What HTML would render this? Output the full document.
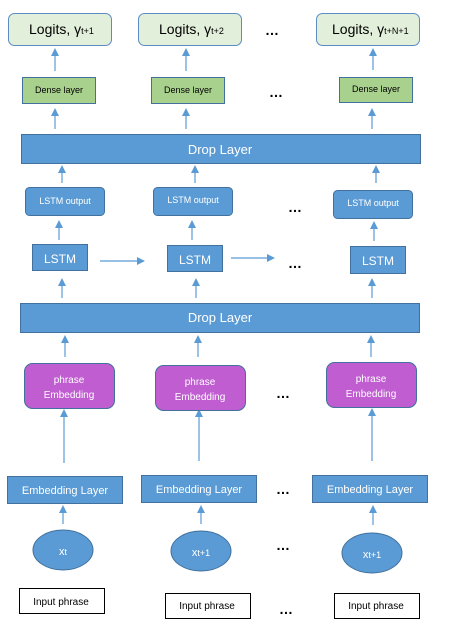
<!DOCTYPE html>
<html><head><meta charset="utf-8"><style>
html,body{margin:0;padding:0;background:#fff;}
svg{display:block;font-family:"Liberation Sans",sans-serif;}
</style></head><body>
<svg width="451" height="630" viewBox="0 0 451 630" xmlns="http://www.w3.org/2000/svg">
<defs>
<marker id="a" markerWidth="8" markerHeight="8" refX="4" refY="4" orient="auto" markerUnits="userSpaceOnUse">
<path d="M0,0 L8,4 L0,8 z" fill="#5b9bd5"/></marker>
</defs>
<g stroke="#5b9bd5" stroke-width="1.2" marker-end="url(#a)">
<line x1="55" y1="71" x2="55" y2="52"/><line x1="186" y1="71" x2="186" y2="52"/><line x1="373" y1="70" x2="373" y2="52"/>
<line x1="55" y1="129" x2="55" y2="112"/><line x1="186" y1="129" x2="186" y2="112"/><line x1="372" y1="129" x2="372" y2="112"/>
<line x1="62" y1="183" x2="62" y2="169"/><line x1="195" y1="183" x2="195" y2="169"/><line x1="376" y1="183" x2="376" y2="169"/>
<line x1="59" y1="240" x2="59" y2="224"/><line x1="192" y1="240" x2="192" y2="224"/><line x1="374" y1="241" x2="374" y2="225"/>
<line x1="100" y1="261" x2="141" y2="261"/><line x1="231" y1="258" x2="271" y2="258"/>
<line x1="62" y1="298" x2="62" y2="282"/><line x1="196" y1="298" x2="196" y2="282"/><line x1="372" y1="298" x2="372" y2="282"/>
<line x1="65" y1="357" x2="65" y2="339"/><line x1="198" y1="357" x2="198" y2="339"/><line x1="371" y1="357" x2="371" y2="339"/>
<line x1="64" y1="463" x2="64" y2="413"/><line x1="199" y1="461" x2="199" y2="413"/><line x1="372" y1="461" x2="372" y2="412"/>
<line x1="63" y1="524" x2="63" y2="509"/><line x1="201" y1="524" x2="201" y2="509"/><line x1="373" y1="525" x2="373" y2="509"/>
</g>
<g fill="#e2efda" stroke="#5b8cc4" stroke-width="1">
<rect x="8.5" y="13.5" width="103" height="32" rx="6"/><rect x="138.5" y="13.5" width="103" height="32" rx="6"/><rect x="316.5" y="13.5" width="103" height="32" rx="6"/>
</g>
<g font-size="14" fill="#000">
<text x="29" y="34">Logits, γ<tspan font-size="9">t+1</tspan></text>
<text x="159" y="34">Logits, γ<tspan font-size="9">t+2</tspan></text>
<text x="332" y="34">Logits, γ<tspan font-size="9">t+N+1</tspan></text>
</g>
<g fill="#a9d18e" stroke="#41719c" stroke-width="1">
<rect x="22.5" y="77.5" width="73" height="26"/><rect x="151.5" y="77.5" width="73" height="26"/><rect x="339.5" y="77.5" width="73" height="25"/>
</g>
<g font-size="9" fill="#000" text-anchor="middle">
<text x="59" y="93">Dense layer</text><text x="188" y="93">Dense layer</text><text x="376" y="92">Dense layer</text>
</g>
<g fill="#5b9bd5" stroke="#41719c" stroke-width="1">
<rect x="21.5" y="134.5" width="399" height="29"/>
<rect x="20.5" y="303.5" width="399" height="29"/>
<rect x="25.5" y="187.5" width="79" height="28" rx="4"/><rect x="153.5" y="187.5" width="79" height="28" rx="4"/><rect x="333.5" y="190.5" width="79" height="28" rx="4"/>
<rect x="32.5" y="244.5" width="55" height="26"/><rect x="167.5" y="245.5" width="55" height="26"/><rect x="350.5" y="246.5" width="55" height="27"/>
<rect x="7.5" y="476.5" width="115" height="27"/><rect x="141.5" y="475.5" width="115" height="27"/><rect x="312.5" y="475.5" width="115" height="27"/>
<ellipse cx="63" cy="550" rx="30" ry="20"/><ellipse cx="201" cy="551" rx="30" ry="20"/><ellipse cx="372" cy="553" rx="30" ry="20"/>
</g>
<g fill="#bf5dd1" stroke="#41719c" stroke-width="1">
<rect x="24.5" y="363.5" width="90" height="45" rx="8"/><rect x="155.5" y="365.5" width="90" height="45" rx="8"/><rect x="326.5" y="362.5" width="90" height="45" rx="8"/>
</g>
<g fill="#fff" text-anchor="middle">
<text x="220" y="154" font-size="13">Drop Layer</text>
<text x="220" y="322" font-size="13">Drop Layer</text>
<g font-size="9"><text x="65" y="204">LSTM output</text><text x="193" y="203">LSTM output</text><text x="373" y="206">LSTM output</text></g>
<g font-size="12"><text x="60" y="263">LSTM</text><text x="195" y="264">LSTM</text><text x="378" y="265">LSTM</text></g>
<g font-size="10"><text x="69" y="383">phrase</text><text x="69" y="398">Embedding</text>
<text x="200" y="385">phrase</text><text x="200" y="400">Embedding</text>
<text x="371" y="382">phrase</text><text x="371" y="397">Embedding</text></g>
<g font-size="11"><text x="65" y="494">Embedding Layer</text><text x="199" y="493">Embedding Layer</text><text x="370" y="493">Embedding Layer</text></g>
<text x="63" y="555" font-size="11">x<tspan font-size="9">t</tspan></text>
<text x="201" y="556" font-size="11">x<tspan font-size="9">t+1</tspan></text>
<text x="372" y="558" font-size="11">x<tspan font-size="9">t+1</tspan></text>
</g>
<g fill="#fff" stroke="#000" stroke-width="1">
<rect x="19.5" y="588.5" width="85" height="25"/><rect x="165.5" y="593.5" width="85" height="25"/><rect x="334.5" y="593.5" width="85" height="25"/>
</g>
<g font-size="10" fill="#000" text-anchor="middle">
<text x="61" y="605">Input phrase</text><text x="207" y="609">Input phrase</text><text x="376" y="609">Input phrase</text>
</g>
<g font-size="14" fill="#000" text-anchor="middle" font-weight="bold">
<text x="272" y="35">…</text><text x="276" y="97">…</text><text x="295" y="212">…</text><text x="295" y="268">…</text>
<text x="283" y="398">…</text><text x="283" y="494">…</text><text x="283" y="550">…</text><text x="286" y="614">…</text>
</g>
</svg>
</body></html>
